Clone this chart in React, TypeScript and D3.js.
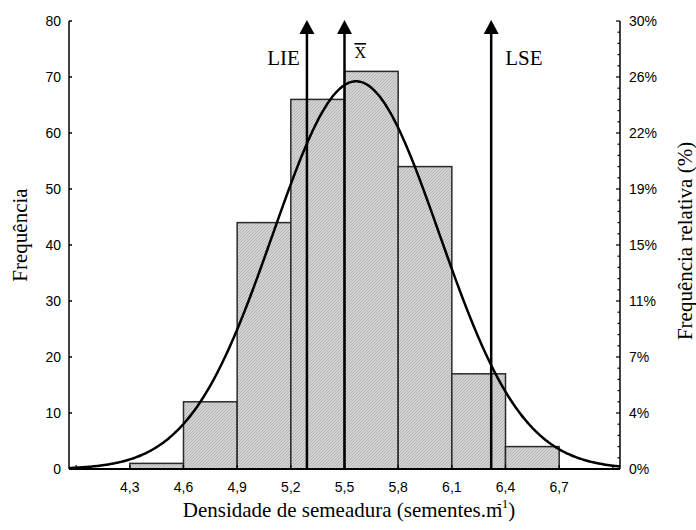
import React from "react";
import * as d3 from "d3";

const binStarts = [4.3, 4.6, 4.9, 5.2, 5.5, 5.8, 6.1, 6.4];
const binCounts = [1, 12, 44, 66, 71, 54, 17, 4];
const binWidth = 0.3;
const xTickValues = [4.0, 4.3, 4.6, 4.9, 5.2, 5.5, 5.8, 6.1, 6.4, 6.7, 7.0];
const xTickLabelled = [4.3, 4.6, 4.9, 5.2, 5.5, 5.8, 6.1, 6.4, 6.7];
const yTickValues = [0, 10, 20, 30, 40, 50, 60, 70, 80];
const yMinorValues = d3.range(0, 81, 2);
const markerLabels = ["LIE", "X", "LSE"];
const markerValues = [5.29, 5.5, 6.32];
const fitMean = 5.565;
const fitSd = 0.465;

const W = 696;
const H = 530;
const left = 69;
const right = 620;
const top = 21;
const bottom = 469;
const SERIF = "'Liberation Serif', 'Times New Roman', serif";
const SANS = "'Liberation Sans', Arial, sans-serif";

export default function App() {
  const total = d3.sum(binCounts);
  const x = d3.scaleLinear().domain([3.96, 7.04]).range([left, right]);
  const y = d3.scaleLinear().domain([0, 80]).range([bottom, top]);
  const amp = (total * binWidth) / (fitSd * Math.sqrt(2 * Math.PI));
  const curvePts = d3.range(3.96, 7.0401, 0.01).map((v) => [
    v,
    amp * Math.exp(-0.5 * ((v - fitMean) / fitSd) ** 2),
  ]);
  const line = d3
    .line<number[]>()
    .x((d) => x(d[0]))
    .y((d) => y(d[1]))
    .curve(d3.curveBasis);
  const fmt = (v: number) => v.toFixed(1).replace(".", ",");
  const tipY = 20;

  return (
    <svg
      width={W}
      height={H}
      style={{ position: "absolute", left: 0, top: 0, background: "#fff" }}
    >
      <defs>
        <pattern id="hatch" patternUnits="userSpaceOnUse" width={3} height={3}>
          <rect width={3} height={3} fill="#d4d4d4" />
          <path
            d="M-1,1 L1,-1 M0,3 L3,0 M2,4 L4,2"
            stroke="#afafaf"
            strokeWidth={0.9}
          />
        </pattern>
      </defs>

      {binStarts.map((s, i) => (
        <rect
          key={i}
          x={x(s)}
          y={y(binCounts[i])}
          width={x(s + binWidth) - x(s)}
          height={y(0) - y(binCounts[i])}
          fill="url(#hatch)"
          stroke="#2a2a2a"
          strokeWidth={1.5}
        />
      ))}

      <path d={line(curvePts) || ""} fill="none" stroke="#000" strokeWidth={2.5} />

      {markerValues.map((v, i) => {
        const cx = x(v);
        return (
          <g key={i}>
            <line x1={cx} x2={cx} y1={bottom} y2={tipY + 12} stroke="#000" strokeWidth={2.5} />
            <path
              d={`M${cx},${tipY} L${cx - 7.5},${tipY + 14} L${cx + 7.5},${tipY + 14} Z`}
              fill="#000"
            />
          </g>
        );
      })}
      <text
        x={x(markerValues[0]) - 7}
        y={65}
        textAnchor="end"
        fontFamily={SERIF}
        fontSize={21}
      >
        {markerLabels[0]}
      </text>
      <text
        x={x(markerValues[1]) + 10}
        y={58}
        fontFamily={SERIF}
        fontSize={16}
        style={{ textDecoration: "overline" }}
      >
        {markerLabels[1]}
      </text>
      <text x={x(markerValues[2]) + 14} y={65} fontFamily={SERIF} fontSize={21}>
        {markerLabels[2]}
      </text>

      {/* axes */}
      <line x1={left} x2={left} y1={top} y2={bottom} stroke="#000" strokeWidth={1.5} />
      <line x1={right} x2={right} y1={top} y2={bottom} stroke="#000" strokeWidth={1.5} />
      <line x1={left} x2={right} y1={bottom} y2={bottom} stroke="#000" strokeWidth={2} />

      {yTickValues.map((v) => (
        <g key={"yl" + v}>
          <line x1={left} x2={left + 3} y1={y(v)} y2={y(v)} stroke="#000" strokeWidth={1.5} />
          <text
            x={left - 8}
            y={y(v) + 5}
            textAnchor="end"
            fontFamily={SANS}
            fontSize={14}
          >
            {v}
          </text>
        </g>
      ))}

      {yMinorValues.map((v) => (
        <line
          key={"ym" + v}
          x1={right - (v % 10 === 0 ? 4 : 2.5)}
          x2={right}
          y1={y(v)}
          y2={y(v)}
          stroke="#000"
          strokeWidth={1.2}
        />
      ))}
      {yTickValues.map((v) => (
        <text
          key={"yr" + v}
          x={right + 9}
          y={y(v) + 5}
          fontFamily={SANS}
          fontSize={14}
        >
          {Math.round((v / total) * 100) + "%"}
        </text>
      ))}

      {xTickValues.map((v) => (
        <line
          key={"xt" + v}
          x1={x(v)}
          x2={x(v)}
          y1={bottom}
          y2={bottom - 4}
          stroke="#000"
          strokeWidth={1.2}
        />
      ))}
      {xTickLabelled.map((v) => (
        <text
          key={"xl" + v}
          x={x(v)}
          y={492}
          textAnchor="middle"
          fontFamily={SANS}
          fontSize={14}
        >
          {fmt(v)}
        </text>
      ))}

      <text
        transform={`translate(27,235) rotate(-90)`}
        textAnchor="middle"
        fontFamily={SERIF}
        fontSize={21}
      >
        Frequência
      </text>
      <text
        transform={`translate(692,241) rotate(-90)`}
        textAnchor="middle"
        fontFamily={SERIF}
        fontSize={21}
      >
        Frequência relativa (%)
      </text>
      <text x={349} y={517} textAnchor="middle" fontFamily={SERIF} fontSize={21}>
        Densidade de semeadura (sementes.m
        <tspan dx={-5} dy={-9} fontSize={13}>
          -1
        </tspan>
        <tspan dy={9}>)</tspan>
      </text>
    </svg>
  );
}
